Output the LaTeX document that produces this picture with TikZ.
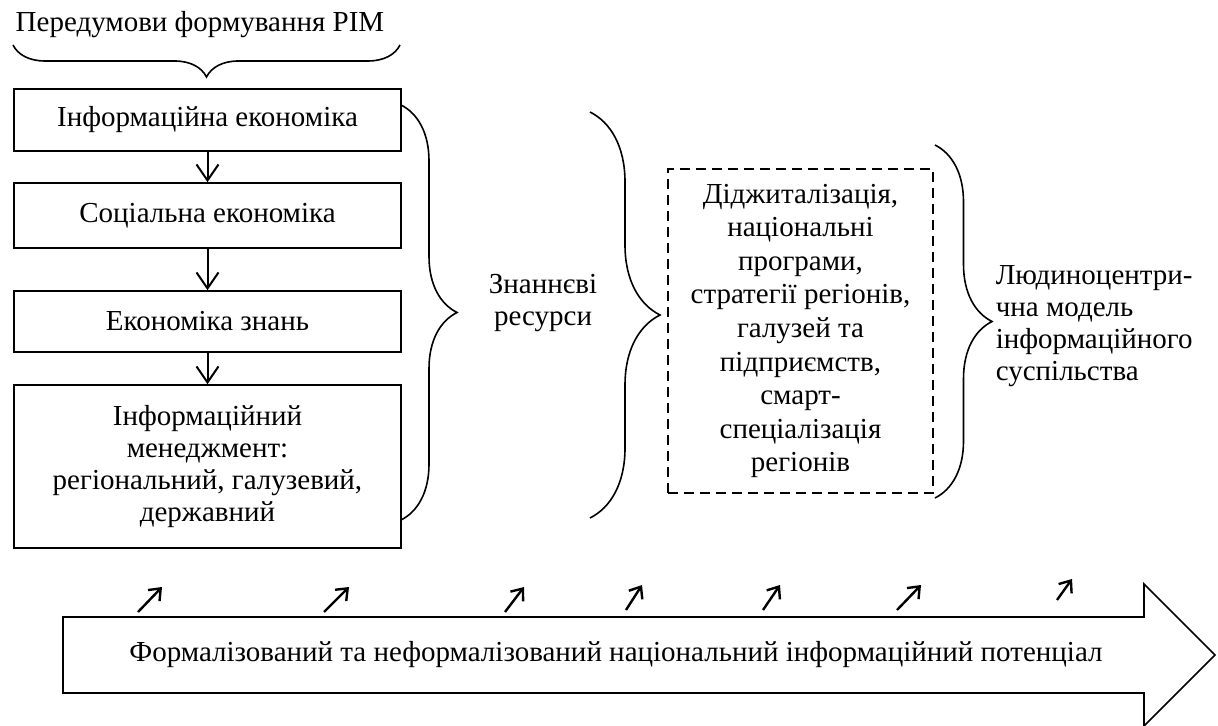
\documentclass[tikz,border=0pt]{standalone}
\usepackage{fontspec}
\setmainfont{Liberation Serif}
\usetikzlibrary{decorations.pathreplacing,arrows.meta}

\begin{document}
\begin{tikzpicture} [x=0.5pt, y=-0.5pt, thick, font=\fontsize{14.5}{16}\selectfont]
    \tikzset{block/.style={%
      draw,%
      rectangle,%
      minimum width=193.5pt,%
      inner sep=0pt,%
      align=center}%
    };
\tikzset{bracket/.style={decorate, decoration={brace, amplitude=#1}}};
\tikzset{flow/.style={line width=1pt, -{Straight Barb[length=8pt, width=11pt, line width=1pt]}}};
\tikzset{rise/.style={line width=1.2pt, -{Straight Barb[length=5pt, width=8pt, line width=1.2pt]}}};

\useasboundingbox (0,0) rectangle (1218,726);

\node (title) at (200,25) {Передумови формування РІМ};
\coordinate (titleR) at (400,45);
\coordinate (titleL) at (13,45);
\draw[bracket=16pt] (titleR) -- (titleL);

%left column
\node[block, minimum height=31pt] (infEcon) at (207.5,120) {Інформаційна економіка};
\node[block, minimum height=32.5pt] (socEcon) at (207.5,215.5) {Соціальна економіка};
\node[block, minimum height=30.5pt] (knowEcon) at (207.5,321.5) {Економіка знань};
\node[block, minimum height=81.5pt] (infMan) at (207.5,466.5) {Інформаційний\\менеджмент:\\регіональний, галузевий,\\державний};

\draw[flow] (infEcon) -- (socEcon);
\draw[flow] (socEcon) -- (knowEcon);
\draw[flow] (knowEcon) -- (infMan);

%first brace
\coordinate (b1top) at (401,105);
\coordinate (b1bot) at (401,520);
\draw[bracket=28pt] (b1top) -- (b1bot);

\node[align=center] (resources) at (543,303) {Знаннєві\\ресурси};

%second brace
\coordinate (b2top) at (590,112);
\coordinate (b2bot) at (590,518);
\draw[bracket=35pt] (b2top) -- (b2bot);

\node[draw, dash pattern=on 5pt off 3pt, minimum width=132.5pt, minimum height=162pt,
  inner sep=0pt, align=center, font=\fontsize{14.5}{16.8}\selectfont] (digital) at (800.5,331)
  {Діджиталізація,\\національні\\програми,\\стратегії регіонів,\\галузей та\\підприємств,\\смарт-\\спеціалізація\\регіонів};

%third brace
\coordinate (b3top) at (935,145);
\coordinate (b3bot) at (935,498);
\draw[bracket=28.5pt] (b3top) -- (b3bot);

\node[anchor=west, align=left, inner sep=0pt] (model) at (995,326) {Людиноцентри-\\чна модель\\інформаційного\\суспільства};

%big arrow at the bottom
\draw (63,617) -- (1144,617) -- (1144,584) -- (1215,655) -- (1144,726) -- (1144,693) -- (63,693) -- cycle;
\node (potential) at (616,655) {Формалізований та неформалізований національний інформаційний потенціал};

\foreach \x/\dx/\y/\dy in {138/24/612/25, 324/25/612/25, 505/19/612/25, 626/16/610/25, 763/17/610/25, 897/24/610/25, 1057/15/600/21}
  \draw[rise] (\x,\y) -- ++(\dx,-\dy);

\end{tikzpicture}
\end{document}
